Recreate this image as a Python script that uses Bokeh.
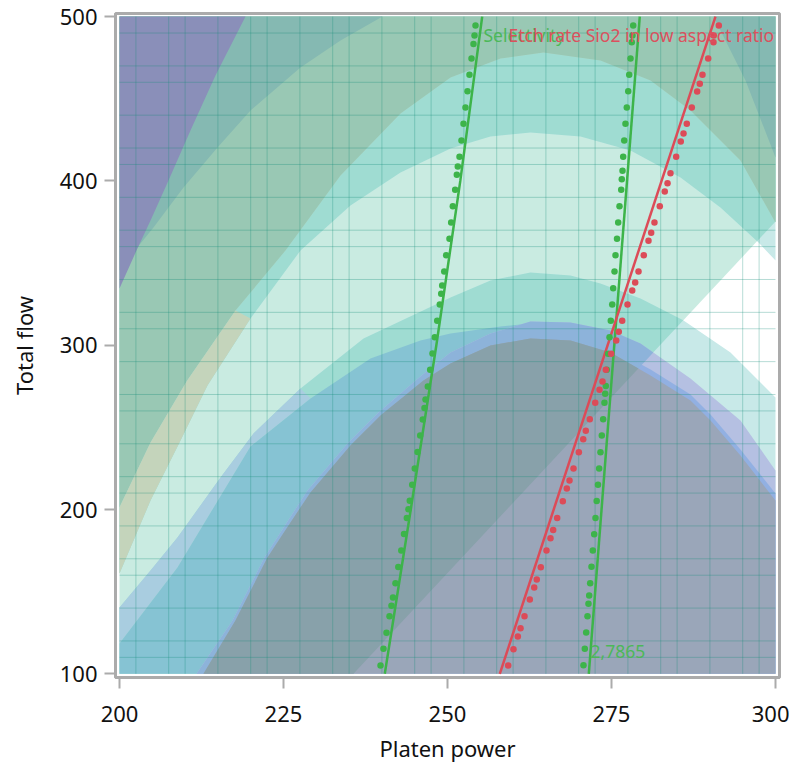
from bokeh.plotting import figure
from bokeh.models import Range1d, FixedTicker, Label
from bokeh.embed import file_html
from bokeh.resources import INLINE

# ---------------- axes ----------------
x_ticks = [200, 225, 250, 275, 300]
y_ticks = [100, 200, 300, 400, 500]
x_lo, x_hi, y_lo, y_hi = 200, 300, 100, 500

# tile-seam mesh lines of the contour shading
mesh_x = [202.5, 207.5, 210, 215, 220, 222.5, 227.5, 232.5, 235, 240, 245, 247.5,
          252.5, 257.5, 260, 265, 270, 272.5, 277.5, 282.5, 285, 290, 295, 297.5]
mesh_y = [110, 120, 140, 160, 170, 190, 210, 220, 240, 260, 270, 290, 310, 320,
          340, 360, 370, 390, 410, 420, 440, 460, 470, 490]

# ---------------- contour boundaries (Platen power, Total flow) ----------------
diag_x = [235.67, 300.0]
diag_y = [100.0, 375.29]

purple_x = [219.21, 214.63, 210.82, 207.47, 204.73, 202.59, 200.0]
purple_y = [500.0, 464.15, 430.68, 400.24, 375.90, 357.64, 334.51]

u1_left_x = [200.0, 202.59, 205.18, 209.76, 214.94, 219.97, 227.59, 233.69, 240.09]
u1_left_y = [345.46, 358.86, 371.64, 395.98, 420.33, 442.85, 469.02, 485.45, 500.0]
u1_right_x = [290.55, 295.43, 300.0]
u1_right_y = [500.0, 461.10, 414.24]

u2_x = [200.0, 204.73, 210.32, 217.68, 225.30, 233.69, 242.84, 250.46, 258.08, 264.63,
        273.32, 280.95, 287.04, 294.66, 300.0]
u2_y = [201.4, 240.78, 278.51, 321.12, 357.64, 403.29, 441.02, 462.93, 474.50, 478.15,
        473.28, 461.10, 442.85, 412.41, 374.68]

u3_x = [200.0, 204.73, 209.30, 213.41, 219.97, 227.59, 235.21, 242.84, 250.46, 256.55,
        262.65, 270.27, 277.90, 285.52, 291.61, 297.41, 300.0]
u3_y = [161.05, 205.48, 242.0, 275.47, 316.25, 357.64, 385.03, 405.11, 419.72, 427.02,
        429.46, 427.02, 418.5, 402.07, 383.81, 362.51, 351.55]
khaki_split_y = 340.0

e1_x = [200.0, 204.73, 208.84, 215.40, 220.43, 227.59, 237.20, 250.46, 256.55, 262.65,
        268.75, 273.32, 279.42, 285.98, 293.14, 300.0]
e1_y = [140.35, 162.87, 182.96, 219.48, 246.26, 273.65, 304.08, 329.03, 339.38, 344.25,
        342.42, 337.55, 328.42, 315.03, 295.56, 268.17]

b_x = [200.0, 208.84, 219.97, 229.12, 238.26, 245.88, 250.46, 258.08, 262.65, 268.75]
b_y = [118.44, 164.70, 238.34, 267.56, 291.90, 302.86, 307.12, 311.38, 313.21, 312.0]
band_split_x = 229.12

l2_x = [211.74, 217.23, 222.10, 225.61, 228.66, 234.76, 239.48, 246.04, 250.46, 256.55,
        262.65, 268.75, 274.85, 279.42, 287.04, 294.66, 300.0]
l2_y = [100.0, 132.44, 170.78, 192.70, 211.56, 240.17, 259.04, 281.56, 295.56, 307.12,
        314.42, 313.81, 308.95, 301.04, 279.73, 254.17, 223.74]

l2b_x = [273.32, 280.95, 287.04, 290.09, 294.66, 300.0]
l2b_y = [301.64, 285.21, 269.99, 257.82, 236.52, 209.74]

l3_x = [212.80, 217.68, 222.56, 226.07, 229.12, 235.21, 239.79, 246.34, 250.46, 256.55,
        262.65, 268.75, 274.85, 280.95, 287.04, 290.09, 294.66, 300.0]
l3_y = [100.0, 132.44, 170.78, 192.09, 210.35, 238.95, 257.21, 278.51, 288.86, 299.82,
        304.08, 302.86, 295.56, 281.56, 266.34, 254.17, 232.87, 205.48]

# ---------------- contour lines & points ----------------
sel1_x = [240.44, 244.4, 248.3, 251.95, 255.29]
sel1_y = [100, 200, 300, 400, 500]
sel2_x = [271.54, 279.31]
sel2_y = [100, 500]
etch_x = [257.97, 290.85]
etch_y = [100, 500]

sel1_pts_x = [254.27, 254.12, 253.96, 253.66, 253.35, 253.05, 252.74, 252.44, 252.13, 251.83,
              251.57, 251.42, 251.17, 250.81, 250.56, 250.30, 249.80, 249.50, 249.19, 249.04,
              248.83, 248.43, 248.06, 247.71, 247.36, 247.00, 246.65, 246.49, 246.23, 245.84,
              245.43, 245.01, 244.62, 244.25, 244.05, 243.80, 243.37, 242.96, 242.50, 242.07,
              241.69, 241.46, 241.16, 240.70, 240.24, 239.79]
sel1_pts_y = [494.6, 488.5, 483.4, 474.5, 464.6, 454.6, 444.7, 434.8, 424.6, 414.7,
              408.8, 403.7, 394.6, 384.6, 374.7, 364.8, 354.8, 344.9, 336.3, 331.3,
              324.8, 314.9, 304.9, 295.0, 285.0, 274.9, 266.9, 261.8, 254.8, 245.0,
              235.0, 225.0, 215.0, 205.3, 200.2, 194.9, 185.1, 175.0, 165.0, 155.1,
              146.4, 141.4, 135.1, 125.0, 115.2, 105.1]

sel2_pts_x = [278.31, 278.20, 278.09, 277.90, 277.70, 277.55, 277.33, 277.13, 276.94, 276.78,
              276.68, 276.57, 276.48, 276.22, 276.02, 275.84, 275.61, 275.46, 275.26, 275.11,
              274.89, 274.70, 274.50, 274.28, 274.13, 274.04, 273.93, 273.73, 273.52, 273.32,
              273.12, 272.94, 272.74, 272.56, 272.36, 272.15, 271.95, 271.75, 271.60, 271.49,
              271.34, 271.14, 270.93, 270.73]
sel2_pts_y = [494.6, 488.5, 484.4, 474.5, 464.6, 454.6, 444.7, 434.8, 424.6, 414.7,
              406.2, 401.0, 394.6, 384.6, 374.7, 364.8, 354.8, 344.9, 334.7, 324.8,
              314.9, 304.9, 294.8, 285.0, 275.2, 270.4, 264.9, 255.0, 245.0, 234.9,
              225.0, 215.0, 205.2, 194.9, 185.0, 175.0, 165.1, 155.1, 147.7, 142.6,
              135.1, 125.1, 115.2, 105.2]

etch_pts_x = [291.36, 290.59, 290.55, 289.74, 288.87, 288.46, 288.06, 287.24, 286.48, 285.98,
              285.56, 284.86, 283.99, 283.54, 283.12, 282.36, 281.55, 281.05, 280.64, 279.92,
              279.12, 278.61, 278.16, 277.44, 276.63, 276.11, 275.72, 274.95, 274.13, 273.63,
              273.17, 272.52, 271.69, 271.08, 270.69, 270.02, 269.21, 268.60, 268.19, 267.58,
              266.72, 266.11, 265.70, 265.09, 264.22, 263.61, 263.22, 262.55, 261.74, 261.13,
              260.72, 260.06, 259.25]
etch_pts_y = [494.6, 488.5, 484.4, 474.5, 464.6, 459.1, 454.4, 444.7, 434.8, 428.9,
              424.0, 414.7, 404.7, 398.6, 393.6, 384.6, 374.7, 368.4, 363.5, 354.8,
              344.9, 338.2, 333.3, 324.8, 314.9, 308.2, 302.9, 294.8, 285.0, 277.9,
              272.9, 264.9, 255.0, 247.9, 242.8, 234.9, 225.0, 217.7, 212.8, 205.0,
              194.9, 187.6, 182.5, 175.0, 164.9, 157.4, 152.5, 145.2, 135.1, 127.8,
              122.7, 115.0, 105.1]

sel_label = ("Selectivity", 255.49, 488.5)
etch_label = ("Etch rate Sio2 in low aspect ratio", 259.30, 488.5)
value_label = ("2,7865", 271.80, 113.6)

GREEN = "#3db44a"
RED = "#dc4b58"
AXIS_GREY = "#ababab"
FONT = "Noto Sans"

# ---------------- figure ----------------
p = figure(frame_width=664, frame_height=664,
           x_range=Range1d(199.39, 300.61), y_range=Range1d(97.75, 501.89),
           output_backend="svg", toolbar_location=None,
           min_border_left=115, min_border_top=13, min_border_right=10,
           background_fill_color="white", border_fill_color="white")
p.xgrid.visible = False
p.ygrid.visible = False
p.outline_line_color = AXIS_GREY
p.outline_line_width = 3

for ax, ticks in ((p.xaxis, x_ticks), (p.yaxis, y_ticks)):
    ax.ticker = FixedTicker(ticks=ticks)
    ax.minor_tick_line_color = None
    ax.major_tick_in = 0
    ax.major_tick_out = 11
    ax.major_tick_line_color = AXIS_GREY
    ax.major_tick_line_width = 2
    ax.axis_line_color = AXIS_GREY
    ax.axis_line_width = 3
    ax.major_label_text_font = FONT
    ax.major_label_text_font_size = "22px"
    ax.major_label_text_color = "#111111"
    ax.axis_label_text_font = FONT
    ax.axis_label_text_font_size = "22px"
    ax.axis_label_text_font_style = "normal"
    ax.axis_label_text_color = "#111111"
p.xaxis.axis_label = "Platen power"
p.yaxis.axis_label = "Total flow"
p.xaxis.major_label_standoff = 17
p.yaxis.major_label_standoff = 7
p.xaxis.axis_label_standoff = 8
p.yaxis.axis_label_standoff = 18


def side(x, y):
    return (diag_x[1] - diag_x[0]) * (y - diag_y[0]) - (diag_y[1] - diag_y[0]) * (x - diag_x[0])


def clip_left(xs, ys):
    out_x, out_y = [], []
    n = len(xs)
    for i in range(n):
        ax_, ay_ = xs[i], ys[i]
        bx_, by_ = xs[(i + 1) % n], ys[(i + 1) % n]
        sa, sb = side(ax_, ay_), side(bx_, by_)
        if sa >= 0:
            out_x.append(ax_); out_y.append(ay_)
        if (sa >= 0) != (sb >= 0):
            t = sa / (sa - sb)
            out_x.append(ax_ + t * (bx_ - ax_)); out_y.append(ay_ + t * (by_ - ay_))
    return out_x, out_y


def region(xs, ys, left_color, right_color=None):
    if right_color is None:
        p.patch(xs, ys, fill_color=left_color, line_color=None)
        return
    p.patch(xs, ys, fill_color=right_color, line_color=None)
    lx, ly = clip_left(xs, ys)
    if len(lx) >= 3:
        p.patch(lx, ly, fill_color=left_color, line_color=None)


# base: mint left of the diagonal, white right of it
region([x_lo, x_hi, x_hi, x_lo], [y_lo, y_lo, y_hi, y_hi], "#c9ebe1", "#ffffff")

# upper family
region(u3_x + [x_hi, x_lo], u3_y + [y_hi, y_hi], "#9fdcd2", "#c8e9e8")
region(u2_x + [x_hi, x_lo], u2_y + [y_hi, y_hi], "#99c8b4", "#b2d9cb")
kx = [x for x, y in zip(u3_x, u3_y) if y <= khaki_split_y] + \
     [x for x, y in reversed(list(zip(u2_x, u2_y))) if y <= khaki_split_y]
ky = [y for y in u3_y if y <= khaki_split_y] + \
     [y for y in reversed(u2_y) if y <= khaki_split_y]
region(kx, ky, "#c4d4bb")
region(u1_left_x + [x_lo], u1_left_y + [y_hi], "#85b9b2")
region(u1_right_x + [x_hi], u1_right_y + [y_hi], "#85b9b2")
region(purple_x + [x_lo], purple_y + [y_hi], "#8a8fb9")

# lower family
region(e1_x + [x_hi, x_lo], e1_y + [y_lo, y_lo], "#9fdcd2", "#c8e9e8")
lbx = [x for x in e1_x if x <= band_split_x] + [x for x in reversed(b_x) if x <= band_split_x]
lby = [y for x, y in zip(e1_x, e1_y) if x <= band_split_x] + \
      [y for x, y in reversed(list(zip(b_x, b_y))) if x <= band_split_x]
region(lbx, lby, "#a9cde0")
region(b_x + [b_x[-1], x_lo], b_y + [y_lo, y_lo], "#86c3d3")
region(l2_x + [x_hi], l2_y + [y_lo], "#8db3da", "#b5c0e2")
region(l2b_x + [x_hi, l2b_x[0]], l2b_y + [y_lo, y_lo], "#8db3da", "#92b0e2")
region(l3_x + [x_hi], l3_y + [y_lo], "#88a1aa", "#9aa6b9")

# tile-seam mesh
p.segment(x0=mesh_x, y0=[y_lo] * len(mesh_x), x1=mesh_x, y1=[y_hi] * len(mesh_x),
          line_color="#0f8a78", line_alpha=0.3, line_width=1)
p.segment(x0=[x_lo] * len(mesh_y), y0=mesh_y, x1=[x_hi] * len(mesh_y), y1=mesh_y,
          line_color="#0f8a78", line_alpha=0.3, line_width=1)

# contour lines and points
p.line(sel1_x, sel1_y, line_color=GREEN, line_width=2.5)
p.line(sel2_x, sel2_y, line_color=GREEN, line_width=2.5)
p.line(etch_x, etch_y, line_color=RED, line_width=2.5)
p.scatter(sel1_pts_x, sel1_pts_y, size=6.5, fill_color=GREEN, line_color=None)
p.scatter(sel2_pts_x, sel2_pts_y, size=6.5, fill_color=GREEN, line_color=None)
p.scatter(etch_pts_x, etch_pts_y, size=6.5, fill_color=RED, line_color=None)

for (txt, lx_, ly_), col in ((sel_label, "#4cb858"), (etch_label, "#dc505e"), (value_label, "#4cb858")):
    p.add_layout(Label(x=lx_, y=ly_, text=txt, text_font=FONT, text_font_size="17.5px",
                       text_color=col, text_baseline="middle", text_align="left"))

open("out.html", "w").write(file_html(p, INLINE))
